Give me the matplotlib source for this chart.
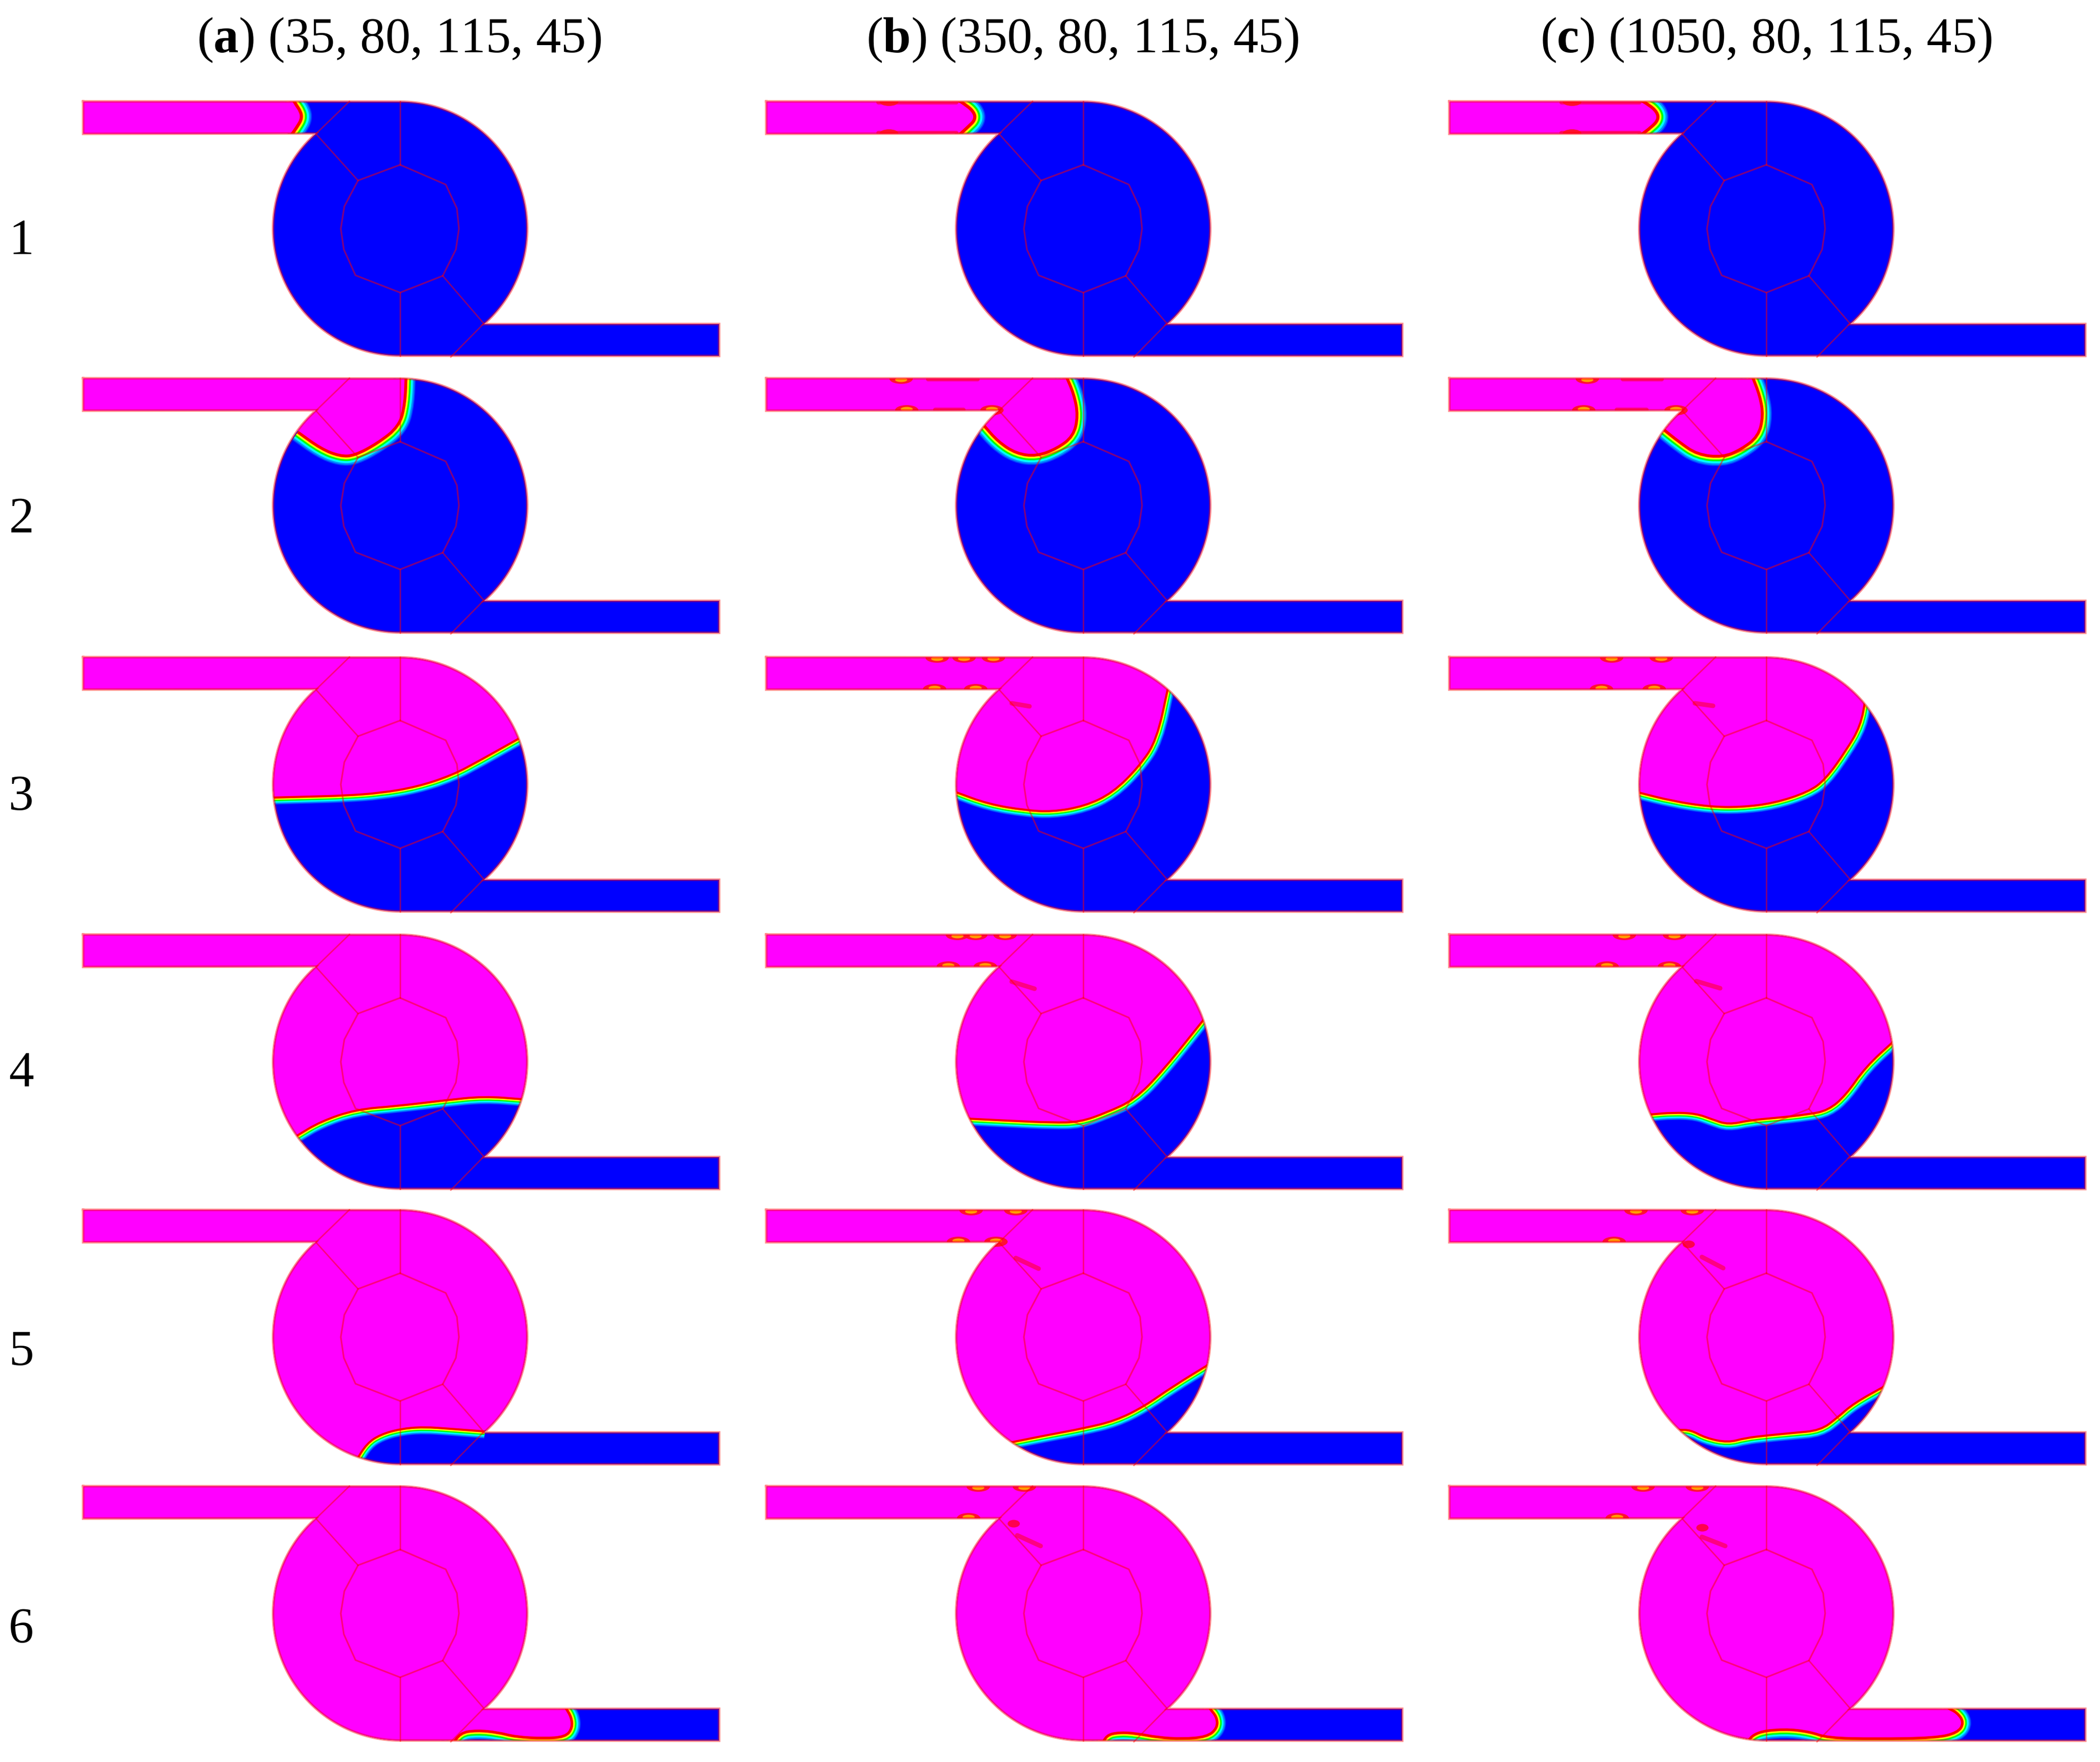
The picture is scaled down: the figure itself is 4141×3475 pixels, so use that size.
import numpy as np
import matplotlib
matplotlib.use("Agg")
import matplotlib.pyplot as plt
from matplotlib.patches import Ellipse, PathPatch, Polygon
from matplotlib.path import Path

plt.rcParams['font.family'] = ['Liberation Serif', 'DejaVu Serif']
plt.rcParams['mathtext.fontset'] = 'custom'
plt.rcParams['mathtext.rm'] = 'Liberation Serif'
plt.rcParams['mathtext.bf'] = 'Liberation Serif:bold'

W, H = 4141, 3475
px = 0.72  # px -> pt at dpi 100

titles = [r"($\mathbf{a}$) (35, 80, 115, 45)",
          r"($\mathbf{b}$) (350, 80, 115, 45)",
          r"($\mathbf{c}$) (1050, 80, 115, 45)"]
title_x = [787, 2134, 3483]
row_labels = ["1", "2", "3", "4", "5", "6"]
label_y = [501, 1049, 1597, 2142, 2691, 3239]

col_x = [789, 2136, 3483]
row_y = [451, 997, 1547, 2094, 2637, 3182]

# geometry of the mixer, px from the centre of the chamber
inner_ring = [(0, -126), (90, -87), (112, -40), (116, 0), (110, 41), (84, 93),
              (0, 126), (-88, 92), (-111, 41), (-117, 0), (-110, -44), (-83, -95)]
spokes = [[(0, -251), (0, -126)], [(0, 126), (0, 251)],
          [(-83, -95), (-166, -187), (-100, -251)],
          [(84, 93), (165, 187), (100, 253)]]

# interface between the two fluids (edge of the magenta side), one list per row
front_a = [
    [(-218, -185), (-204, -205), (-197, -218), (-199, -230), (-208, -243), (-216, -257)],
    [(-200, -147), (-154, -114), (-118, -100), (-91, -101), (-46, -125), (-4, -158), (7, -202), (9, -258)],
    [(-255, 24), (-179, 22), (-109, 20), (-39, 15), (32, 3), (102, -20), (158, -50), (238, -95)],
    [(-206, 145), (-158, 116), (-88, 92), (-4, 85), (88, 74), (165, 66), (243, 72)],
    [(-90, 245), (-67, 208), (-39, 190), (0, 179), (46, 175), (102, 179), (167, 184)],
    [(98, 262), (117, 233), (151, 228), (193, 232), (228, 241), (284, 244), (325, 241), (337, 225), (335, 205), (325, 189), (320, 178)],
]
front_b = [
    [(-250, -184), (-228, -204), (-216, -216), (-218, -228), (-232, -241), (-258, -257)],
    [(-194, -160), (-166, -128), (-131, -105), (-92, -100), (-53, -115), (-22, -138), (-13, -177), (-21, -219), (-38, -258)],
    [(-254, 12), (-186, 37), (-114, 49), (-61, 52), (2, 41), (57, 15), (109, -37), (143, -88), (166, -195)],
    [(-228, 110), (-150, 114), (-61, 118), (-7, 117), (46, 98), (100, 73), (154, 18), (242, -92)],
    [(-145, 206), (-70, 191), (0, 178), (63, 163), (119, 135), (175, 96), (250, 50)],
    [(33, 262), (44, 238), (70, 232), (105, 234), (147, 242), (196, 245), (243, 241), (262, 225), (261, 205), (247, 189), (243, 178)],
]
front_c = [
    [(-252, -185), (-228, -203), (-216, -216), (-218, -228), (-232, -241), (-258, -256)],
    [(-203, -154), (-171, -128), (-135, -103), (-86, -98), (-51, -113), (-18, -138), (-9, -177), (-15, -215), (-32, -258)],
    [(-255, 13), (-184, 31), (-111, 42), (-51, 43), (15, 35), (82, 13), (115, -11), (155, -67), (184, -116), (194, -172)],
    [(-230, 102), (-184, 98), (-138, 100), (-105, 112), (-75, 122), (-31, 113), (15, 109), (81, 102), (121, 94), (155, 65), (194, 9), (252, -44)],
    [(-174, 181), (-149, 181), (-119, 197), (-76, 206), (-42, 197), (0, 192), (52, 187), (106, 182), (138, 158), (171, 129), (236, 93)],
    [(-46, 262), (-25, 232), (35, 225), (87, 231), (121, 243), (215, 245), (334, 243), (376, 233), (387, 215), (374, 197), (356, 189), (350, 178)],
]
band_px = [24, 22, 16, 16, 16, 20]

# yellow spots on the inlet walls, x from chamber centre, per row
spots_top_b = [[-383], [-359], [-288, -235, -177], [-248, -212, -154], [-221, -133], [-207, -116]]
spots_bot_b = [[-383], [-348, -180], [-293, -212], [-266, -193], [-246, -172], [-226]]
spots_top_c = [[-383], [-353], [-305, -207], [-280, -181], [-257, -146], [-243, -136]]
spots_bot_c = [[-383], [-360, -178], [-325, -221], [-314, -191], [-300], [-294]]

# red smears along the wall (x from, x to), top and bottom
smear_b = [[(-404, -250), (-404, -250)], [(-306, -208), (-292, -236)]]
smear_c = [[(-404, -250), (-404, -250)], [(-283, -206), (-295, -236)]]

# faint red streak under the inlet corner, rows 3-6
streak_b = [[(-141, -160), (-106, -154)], [(-141, -158), (-96, -144)],
            [(-133, -156), (-88, -135)], [(-130, -154), (-84, -133)]]
streak_c = [[(-141, -160), (-105, -155)], [(-138, -159), (-91, -145)],
            [(-127, -158), (-85, -136)], [(-127, -151), (-81, -133)]]
blob_b = [None, None, None, (-137, -177)]
blob_c = [None, None, (-153, -183), (-126, -169)]

band_colors = ['#0040ff', '#0090ff', '#00ffff', '#00ff00', '#ffff00', '#ff0000']
band_frac = [1.0, 0.9, 0.76, 0.58, 0.42, 0.26]


def outline_points():
    r = 250.5
    # clockwise from the top of the circle to the outlet corner
    a1 = np.linspace(-90, np.degrees(np.arctan2(188, 165)), 80)
    a2 = np.linspace(90, 180 + np.degrees(np.arctan2(187, 165)), 80)
    pts = [(-625, -251)]
    pts += list(zip(r * np.cos(np.radians(a1)), r * np.sin(np.radians(a1))))
    pts += [(629, 188), (629, 251)]
    pts += list(zip(r * np.cos(np.radians(a2)), r * np.sin(np.radians(a2))))
    pts += [(-625, -187)]
    return np.array(pts)


def shift(pts, cx, cy):
    return np.array(pts, dtype=float) + [cx, cy]


def smooth_parts(p):
    # quadratic curve through the midpoints of the read points
    verts = [p[0], (p[0] + p[1]) / 2]
    codes = [Path.MOVETO, Path.LINETO]
    for i in range(1, len(p) - 1):
        verts += [p[i], (p[i] + p[i + 1]) / 2]
        codes += [Path.CURVE3, Path.CURVE3]
    verts.append(p[-1])
    codes.append(Path.LINETO)
    return verts, codes


fig = plt.figure(figsize=(W / 100, H / 100), dpi=100)
ax = fig.add_axes([0, 0, 1, 1])
ax.set_xlim(0, W)
ax.set_ylim(H, 0)
ax.axis('off')

outline = outline_points()
fronts = [front_a, front_b, front_c]

for c, cx in enumerate(col_x):
    for r, cy in enumerate(row_y):
        dom = Polygon(shift(outline, cx, cy), closed=True, fc='#0000ff', ec='none', zorder=1)
        ax.add_patch(dom)

        front = fronts[c][r]
        verts, codes = smooth_parts(shift(front, cx, cy))
        # rainbow strokes first, the magenta fill then hides their inner half
        for col, f in zip(band_colors, band_frac):
            st = PathPatch(Path(verts, codes), fc='none', ec=col, lw=2 * band_px[r] * f * px,
                           capstyle='butt', joinstyle='round', zorder=2)
            ax.add_patch(st)
            st.set_clip_path(dom)
        if r < 2:
            close = [(-800, -400), (-800, -100)]
        elif front[-1][1] < 0:
            close = [(400, -400), (-800, -400), (-800, 300)]
        else:
            close = [(400, 170), (400, -400), (-800, -400), (-800, 300)]
        cl = shift(close, cx, cy)
        mag_v = verts + list(cl) + [verts[0]]
        mag_c = codes + [Path.LINETO] * len(cl) + [Path.CLOSEPOLY]
        mag = PathPatch(Path(mag_v, mag_c), fc='#ff00ff', ec='none', zorder=3)
        ax.add_patch(mag)
        mag.set_clip_path(dom)

        # wall deposits in panels b and c
        if c > 0:
            tops = spots_top_b if c == 1 else spots_top_c
            bots = spots_bot_b if c == 1 else spots_bot_c
            smears = smear_b if c == 1 else smear_c
            if r < 2:
                for (x0, x1), yw in zip(smears[r], (-249, -189)):
                    ln, = ax.plot([cx + x0, cx + x1], [cy + yw, cy + yw], color='#ff0040', lw=8 * px,
                                  alpha=0.7, solid_capstyle='round', zorder=4)
                    ln.set_clip_path(dom)
            for xs, yw in ((tops[r], -250), (bots[r], -188)):
                for x in xs:
                    big = 1.0 if r > 0 else 0.8
                    e1 = Ellipse((cx + x, cy + yw), 46 * big, 20 * big, fc='#ff1020', ec='none', alpha=0.9, zorder=4)
                    ax.add_patch(e1)
                    e1.set_clip_path(dom)
                    if r > 0:
                        e2 = Ellipse((cx + x, cy + yw + (2 if yw < -200 else -2)), 24, 9, fc='#ffa000', ec='none', zorder=4)
                        ax.add_patch(e2)
                        e2.set_clip_path(dom)
            if r >= 2:
                st = (streak_b if c == 1 else streak_c)[r - 2]
                xy = shift(st, cx, cy)
                ax.plot(xy[:, 0], xy[:, 1], color='#ff0030', lw=9 * px, alpha=0.6,
                        solid_capstyle='round', zorder=4)
                bl = (blob_b if c == 1 else blob_c)[r - 2]
                if bl is not None:
                    ax.add_patch(Ellipse((cx + bl[0], cy + bl[1]), 24, 15, fc='#ff0030', ec='none', alpha=0.85, zorder=4))

        # block lines of the mesh
        ring = shift(inner_ring + inner_ring[:1], cx, cy)
        ax.plot(ring[:, 0], ring[:, 1], color='#ff0000', lw=3.2 * px, alpha=0.5, zorder=5)
        for s in spokes:
            xy = shift(s, cx, cy)
            ax.plot(xy[:, 0], xy[:, 1], color='#ff0000', lw=2.8 * px, alpha=0.5, zorder=5)
        wall = shift(np.vstack([outline, outline[:1]]), cx, cy)
        ax.plot(wall[:, 0], wall[:, 1], color='#ff0000', lw=5 * px, alpha=0.45, zorder=6,
                solid_joinstyle='miter')

for t, x in zip(titles, title_x):
    ax.text(x, 103, t, fontsize=71.3, ha='center', va='baseline', color='black')
for t, y in zip(row_labels, label_y):
    ax.text(42, y, t, fontsize=71.3, ha='center', va='baseline', color='black')

fig.savefig('out.png', dpi=100, facecolor='white')
